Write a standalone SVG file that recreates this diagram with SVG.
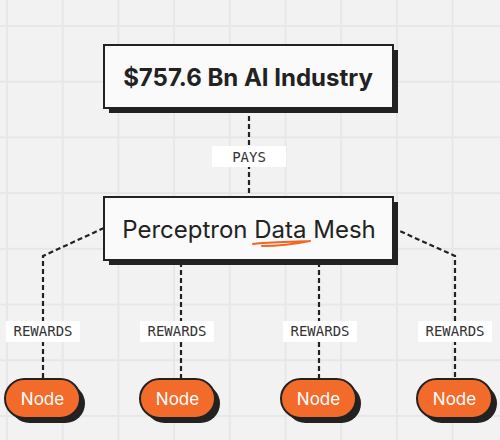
<svg xmlns="http://www.w3.org/2000/svg" width="500" height="440" viewBox="0 0 500 440">
  <defs>
    <pattern id="grid" patternUnits="userSpaceOnUse" x="6" y="25" width="55.7" height="55.7">
      <path d="M1 0V55.7M0 1H55.7" stroke="#e7e7e7" stroke-width="2" fill="none"/>
    </pattern>
    <style>
      .box { fill: #fafafa; stroke: #222; stroke-width: 2; }
      .shadow { fill: #222; }
      .pill { fill: #f36b2b; stroke: #222; stroke-width: 2; }
      .dash { fill: none; stroke: #222; stroke-width: 2.2; stroke-dasharray: 5 3; }
      .lbl { fill: #ffffff; }
      .lbltxt { font-family: "DejaVu Sans Mono", monospace; font-size: 14px; fill: #333; text-anchor: middle; }
      .title { font-family: Inter, "Liberation Sans", sans-serif; font-weight: 700; font-size: 24px; fill: #222; text-anchor: middle; }
      .mid { font-family: Inter, "Liberation Sans", sans-serif; font-weight: 400; font-size: 24px; fill: #222; text-anchor: middle; }
      .nodetxt { font-family: Inter, "Liberation Sans", sans-serif; font-size: 17px; fill: #fff; text-anchor: middle; }
    </style>
  </defs>
  <rect width="500" height="440" fill="#f2f2f2"/>
  <rect width="500" height="440" fill="url(#grid)"/>

  <g id="connectors">
    <path class="dash" d="M249 108V197"/>
    <path class="dash" d="M104 228L43 256V380"/>
    <path class="dash" d="M181 262V380"/>
    <path class="dash" d="M319 262V380"/>
    <path class="dash" d="M393 228L455 256V380"/>
    <rect class="lbl" x="212" y="146" width="74" height="21"/>
    <text class="lbltxt" x="249" y="162">PAYS</text>
    <rect class="lbl" x="6" y="321" width="74" height="21"/>
    <text class="lbltxt" x="43" y="336">REWARDS</text>
    <rect class="lbl" x="140" y="321" width="74" height="21"/>
    <text class="lbltxt" x="177" y="336">REWARDS</text>
    <rect class="lbl" x="283" y="321" width="74" height="21"/>
    <text class="lbltxt" x="320" y="336">REWARDS</text>
    <rect class="lbl" x="418" y="321" width="74" height="21"/>
    <text class="lbltxt" x="455" y="336">REWARDS</text>
  </g>

  <g id="industry">
    <rect class="shadow" x="109" y="50" width="289" height="63"/>
    <rect class="box" x="104" y="45" width="289" height="63"/>
    <text class="title" x="248" y="86">$757.6 Bn AI Industry</text>
  </g>

  <g id="mesh">
    <rect class="shadow" x="109" y="202" width="289" height="63"/>
    <rect class="box" x="104" y="197" width="289" height="63"/>
    <text class="mid" x="249" y="238">Perceptron Data Mesh</text>
    <path d="M253 244C270 242 292 242 310 241M310 241C295 244 277 246 262 246" fill="none" stroke="#f26522" stroke-width="2" stroke-linecap="round"/>
  </g>

  <g id="node1">
    <rect class="shadow" x="10" y="384" width="75" height="39" rx="19.5"/>
    <rect class="pill" x="5" y="379" width="75" height="39" rx="19.5"/>
    <text class="nodetxt" x="42.5" y="405">Node</text>
  </g>
  <g id="node2">
    <rect class="shadow" x="145" y="384" width="75" height="39" rx="19.5"/>
    <rect class="pill" x="140" y="379" width="75" height="39" rx="19.5"/>
    <text class="nodetxt" x="177.5" y="405">Node</text>
  </g>
  <g id="node3">
    <rect class="shadow" x="286" y="384" width="75" height="39" rx="19.5"/>
    <rect class="pill" x="281" y="379" width="75" height="39" rx="19.5"/>
    <text class="nodetxt" x="318.5" y="405">Node</text>
  </g>
  <g id="node4">
    <rect class="shadow" x="422" y="384" width="75" height="39" rx="19.5"/>
    <rect class="pill" x="417" y="379" width="75" height="39" rx="19.5"/>
    <text class="nodetxt" x="454.5" y="405">Node</text>
  </g>
</svg>
